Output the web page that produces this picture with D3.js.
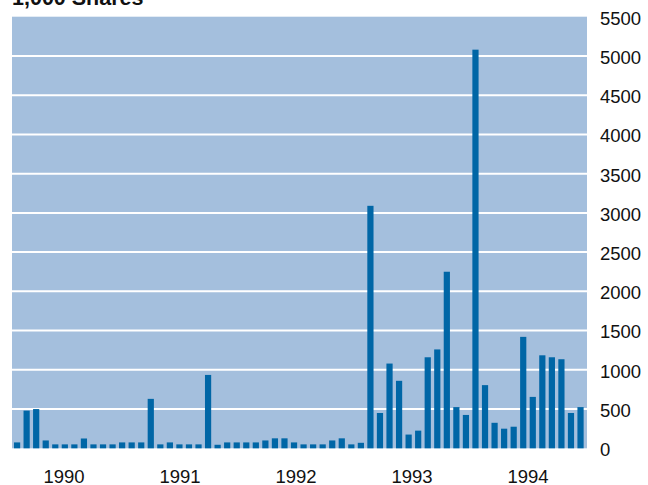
<!DOCTYPE html>
<html>
<head>
<meta charset="utf-8">
<script src="https://cdn.jsdelivr.net/npm/d3@7"></script>
<style>
  html, body { margin: 0; padding: 0; background: #fff; }
  svg { display: block; }
  text { font-family: "Liberation Sans", Arial, Helvetica, sans-serif; }
</style>
</head>
<body>
<svg id="chart" width="648" height="485"></svg>
<script>
// Monthly trading volume, thousands of shares, Jan 1990 – Dec 1994
const years = [1990, 1991, 1992, 1993, 1994];
const vol1990 = [75, 480, 500, 100, 50, 50, 50, 125, 50, 50, 50, 75];
const vol1991 = [75, 75, 630, 50, 75, 50, 50, 50, 935, 45, 75, 75];
const vol1992 = [75, 75, 100, 127, 127, 75, 50, 50, 50, 100, 127, 50];
const vol1993 = [70, 3090, 450, 1080, 860, 175, 225, 1160, 1260, 2250, 525, 425];
const vol1994 = [5080, 805, 325, 250, 275, 1420, 655, 1185, 1160, 1135, 450, 525];
const yTicks = [0, 500, 1000, 1500, 2000, 2500, 3000, 3500, 4000, 4500, 5000, 5500];

const series = [vol1990, vol1991, vol1992, vol1993, vol1994];
const data = [];
series.forEach((vals, yi) => vals.forEach((v, m) => data.push({ key: years[yi] + "-" + m, year: years[yi], month: m, value: v })));

const svg = d3.select("#chart");
const plot = { left: 12, right: 587, top: 16.7, bottom: 448.3 };

const x = d3.scaleBand()
  .domain(data.map(d => d.key))
  .range([12.3, 585.3])
  .paddingInner(0.35)
  .paddingOuter(0.175);

const y = d3.scaleLinear()
  .domain([0, 5500])
  .range([plot.bottom, plot.top]);

const yearX = d3.scalePoint()
  .domain(years)
  .range([63.5, 527.5]);

// plot background
svg.append("rect")
  .attr("x", plot.left).attr("y", plot.top)
  .attr("width", plot.right - plot.left).attr("height", plot.bottom - plot.top)
  .attr("fill", "#a4bfdd");

// horizontal gridlines
svg.append("g")
  .selectAll("line")
  .data(yTicks.filter(t => t > 0 && t < 5500))
  .join("line")
  .attr("x1", plot.left).attr("x2", plot.right)
  .attr("y1", d => y(d)).attr("y2", d => y(d))
  .attr("stroke", "#ffffff")
  .attr("stroke-width", 2);

// bars
svg.append("g")
  .selectAll("rect")
  .data(data)
  .join("rect")
  .attr("x", d => x(d.key))
  .attr("width", x.bandwidth())
  .attr("y", d => y(d.value))
  .attr("height", d => y(0) - y(d.value))
  .attr("fill", "#0066a6");

// right value axis
const yAxis = d3.axisRight(y).tickValues(yTicks).tickSize(0).tickPadding(0).tickFormat(d3.format("d"));
const ya = svg.append("g")
  .attr("transform", "translate(600,0)")
  .call(yAxis);
ya.select(".domain").remove();
ya.selectAll("text")
  .attr("font-size", "18.5px")
  .attr("fill", "#111")
  .attr("dy", "0.4em")
  .style("font-family", "'Liberation Sans', Arial, sans-serif");

// year labels
const xa = svg.append("g")
  .attr("transform", "translate(0,483)")
  .call(d3.axisBottom(yearX).tickSize(0).tickPadding(0).tickFormat(d3.format("d")));
xa.select(".domain").remove();
xa.selectAll("text")
  .attr("font-size", "18.5px")
  .attr("fill", "#111")
  .attr("dy", 0)
  .attr("y", 0)
  .style("font-family", "'Liberation Sans', Arial, sans-serif");

// unit title
svg.append("text")
  .attr("x", 12).attr("y", 5)
  .attr("font-size", "21.5px")
  .attr("font-weight", "bold")
  .attr("fill", "#111")
  .text("1,000 Shares");
</script>
</body>
</html>
